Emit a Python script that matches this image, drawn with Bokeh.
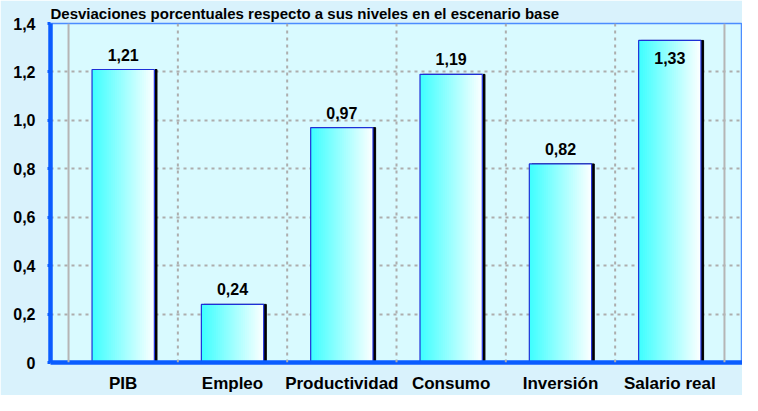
from bokeh.plotting import figure
from bokeh.models import ColumnDataSource, FixedTicker, Span, Title
from bokeh.transform import dodge
from bokeh.embed import file_html
from bokeh.resources import INLINE
from bokeh.core.properties import value

# ---- data ----
categories = ["PIB", "Empleo", "Productividad", "Consumo", "Inversión", "Salario real"]
values = [1.21, 0.24, 0.97, 1.19, 0.82, 1.33]
y_ticks = [0, 0.2, 0.4, 0.6, 0.8, 1.0, 1.2, 1.4]
y_tick_labels = ["0", "0,2", "0,4", "0,6", "0,8", "1,0", "1,2", "1,4"]
title_text = "Desviaciones porcentuales respecto a sus niveles en el escenario base"

FONT = "Liberation Sans"
BLUE = "#0A5CFF"
OUTER_BG = "#D9F2FC"
PLOT_BG = "#D9FAFF"
GRID = "#ADADAD"

labels = [f"{v:.2f}".replace(".", ",") for v in values]
source = ColumnDataSource(dict(cat=categories, val=values, lab=labels))

p = figure(
    x_range=categories, y_range=(0, 1.4),
    width=742, height=395,
    output_backend="svg", toolbar_location=None,
    min_border_left=50, min_border_right=0, min_border_bottom=25, min_border_top=0,
)
p.x_range.range_padding = 0.055
p.background_fill_color = PLOT_BG
p.border_fill_color = OUTER_BG
p.outline_line_color = "#4C8CFF"
p.outline_line_width = 1.5

t = Title(text=title_text, text_font=FONT, text_font_size="15px",
          text_font_style="bold", text_color="black", offset=0, standoff=4)
p.add_layout(t, "above")

# grid
p.xgrid.visible = False
p.ygrid.grid_line_color = GRID
p.ygrid.grid_line_dash = "3 4"
p.ygrid.grid_line_width = 2
p.yaxis.ticker = FixedTicker(ticks=y_ticks)
p.ygrid.ticker = FixedTicker(ticks=y_ticks)

for k in range(len(categories) + 1):
    if k == 0 or k == len(categories):
        sp = Span(location=k, dimension="height", line_color="#B5B5B5", line_width=2)
    else:
        sp = Span(location=k, dimension="height", line_color=GRID, line_width=2,
                  line_dash="3 4")
    p.add_layout(sp)

# bars: black shadow, gradient (overlapping layers), outline
bar_w = 0.57
p.vbar(x=dodge("cat", 0.024, range=p.x_range), top="val", width=bar_w, bottom=0,
       source=source, fill_color="black", line_color="black")
n = 30
c0 = (64, 255, 255)
c1 = (250, 255, 255)
dw = bar_w / n
for i in range(n):
    f = i / (n - 1)
    col = "#%02x%02x%02x" % tuple(int(round(a + (b - a) * f)) for a, b in zip(c0, c1))
    w = bar_w - i * dw
    off = -bar_w / 2 + i * dw + w / 2
    p.vbar(x=dodge("cat", off, range=p.x_range), top="val", width=w,
           bottom=0, source=source, fill_color=col, line_color=None)
p.vbar(x="cat", top="val", width=bar_w, bottom=0, source=source,
       fill_color=None, line_color="#1E2FD8", line_width=1.2)

# value labels
thr = 1.3
above = ColumnDataSource(dict(
    cat=[c for c, v in zip(categories, values) if v < thr],
    val=[v for v in values if v < thr],
    lab=[l for l, v in zip(labels, values) if v < thr]))
inside = ColumnDataSource(dict(
    cat=[c for c, v in zip(categories, values) if v >= thr],
    val=[v for v in values if v >= thr],
    lab=[l for l, v in zip(labels, values) if v >= thr]))
p.text(x="cat", y="val", text="lab", source=above, text_align="center",
       text_baseline="bottom", y_offset=-9, text_font=value(FONT),
       text_font_size="16px", text_font_style="bold", text_color="black")
p.text(x="cat", y="val", text="lab", source=inside, text_align="center",
       text_baseline="top", y_offset=12, text_font=value(FONT),
       text_font_size="16px", text_font_style="bold", text_color="black")

# axes
for ax in (p.xaxis, p.yaxis):
    ax.axis_line_color = BLUE
    ax.axis_line_width = 4.5
    ax.major_label_text_font = FONT
    ax.major_label_text_font_style = "bold"
    ax.major_label_text_color = "black"
    ax.minor_tick_line_color = None

p.xaxis.major_tick_line_color = None
p.xaxis.major_label_text_font_size = "17px"
p.xaxis.major_label_standoff = 5

p.yaxis.major_label_overrides = {t_: l for t_, l in zip(y_ticks, y_tick_labels)}
p.yaxis.major_label_text_font_size = "16px"
p.yaxis.major_tick_line_color = BLUE
p.yaxis.major_tick_line_width = 3
p.yaxis.major_tick_out = 3
p.yaxis.major_tick_in = 0
p.yaxis.major_label_standoff = 12

open("out.html", "w").write(file_html(p, INLINE))
